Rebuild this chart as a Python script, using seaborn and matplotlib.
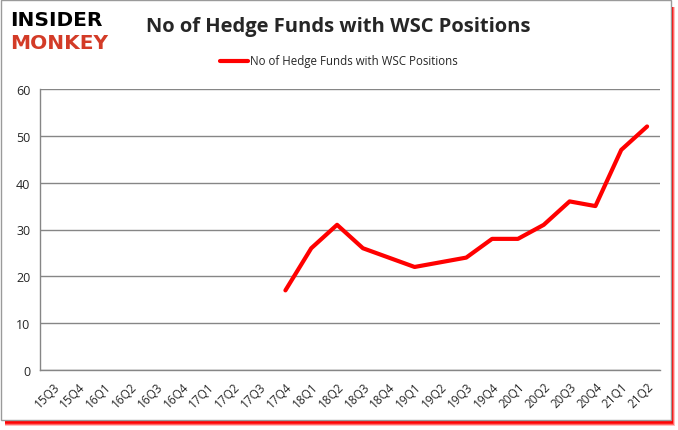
import numpy as np
import pandas as pd
import matplotlib
matplotlib.use("Agg")
import matplotlib.pyplot as plt
import matplotlib.patches as mpatches
import seaborn as sns

# %%
quarters = ["15Q3", "15Q4", "16Q1", "16Q2", "16Q3", "16Q4", "17Q1", "17Q2",
            "17Q3", "17Q4", "18Q1", "18Q2", "18Q3", "18Q4", "19Q1", "19Q2",
            "19Q3", "19Q4", "20Q1", "20Q2", "20Q3", "20Q4", "21Q1", "21Q2"]
funds = [np.nan] * 9 + [17, 26, 31, 26, 24, 22, 23, 24, 28, 28, 31, 36, 35, 47, 52]
series_name = "No of Hedge Funds with WSC Positions"

df = pd.DataFrame({"quarter": quarters, "funds": funds})
df["pos"] = np.arange(len(quarters))

# %%
sns.set_style("white")
plt.rcParams['font.family'] = ['Open Sans', 'DejaVu Sans']

W, H = 678, 431
fig = plt.figure(figsize=(W / 100, H / 100), dpi=100, facecolor='w')

# frame with soft red shadow (pixel coords -> figure fraction)
def px_rect(x0, y0, x1, y1, **kw):
    return mpatches.Rectangle((x0 / W, 1 - y1 / H), (x1 - x0) / W, (y1 - y0) / H,
                              transform=fig.transFigure, **kw)

for k, a in [(6, 0.25), (5, 0.45), (4, 0.7), (3, 0.9)]:
    fig.patches.append(px_rect(5, 8, 671 + k * 0.6, 421 + k, facecolor='#ff0000',
                               edgecolor='none', alpha=a, zorder=0))
fig.patches.append(px_rect(1, 1, 671, 421, facecolor='white', edgecolor='#9a9a9a',
                           linewidth=1, zorder=1))

ax = fig.add_axes([40 / W, 1 - 371 / H, 620 / W, 281 / H])
ax.set_zorder(2)
ax.patch.set_alpha(0)

sns.lineplot(data=df, x="pos", y="funds", color="#ff0000", linewidth=3,
             ax=ax, label=series_name, legend=False)

ax.set_xlim(-0.5, len(quarters) - 0.5)
ax.set_ylim(0, 60)
ax.set_yticks(range(0, 61, 10))
ax.yaxis.grid(True, color='#868686', linewidth=1)
ax.set_xticks(df["pos"])
ax.set_xticklabels(quarters, rotation=45, fontsize=8.5, ha='right',
                   rotation_mode='anchor')
ax.set_xticks(np.arange(-0.5, len(quarters), 1), minor=True)
ax.tick_params(axis='x', which='major', length=0, pad=7)
ax.tick_params(axis='x', which='minor', length=5, color='#868686', direction='out')
ax.tick_params(axis='y', length=4, color='#868686', direction='out', labelsize=9, pad=3)
ax.set_xlabel('')
ax.set_ylabel('')
for s in ['top', 'right']:
    ax.spines[s].set_visible(False)
for s in ['left', 'bottom']:
    ax.spines[s].set_color('#868686')
    ax.spines[s].set_linewidth(1)

# title and legend
fig.text(338 / W, 1 - 27 / H, series_name, ha='center', va='center', fontsize=14.5,
         fontweight='bold', zorder=3)
fig.lines.append(plt.Line2D([220 / W, 248 / W], [1 - 62 / H] * 2, transform=fig.transFigure,
                            color='#ff0000', linewidth=3, zorder=3))
fig.text(250 / W, 1 - 62 / H, series_name, ha='left', va='center', fontsize=8.3, zorder=3)

# logo
fig.text(10 / W, 1 - 20 / H, "INSIDER", ha='left', va='center', fontsize=14.5,
         fontweight='heavy', color='black', family='DejaVu Sans', zorder=3)
fig.text(10 / W, 1 - 44 / H, "MONKEY", ha='left', va='center', fontsize=14.5,
         fontweight='heavy', color='#d33b27', family='DejaVu Sans', zorder=3)

fig.savefig('out.png', dpi=100)
